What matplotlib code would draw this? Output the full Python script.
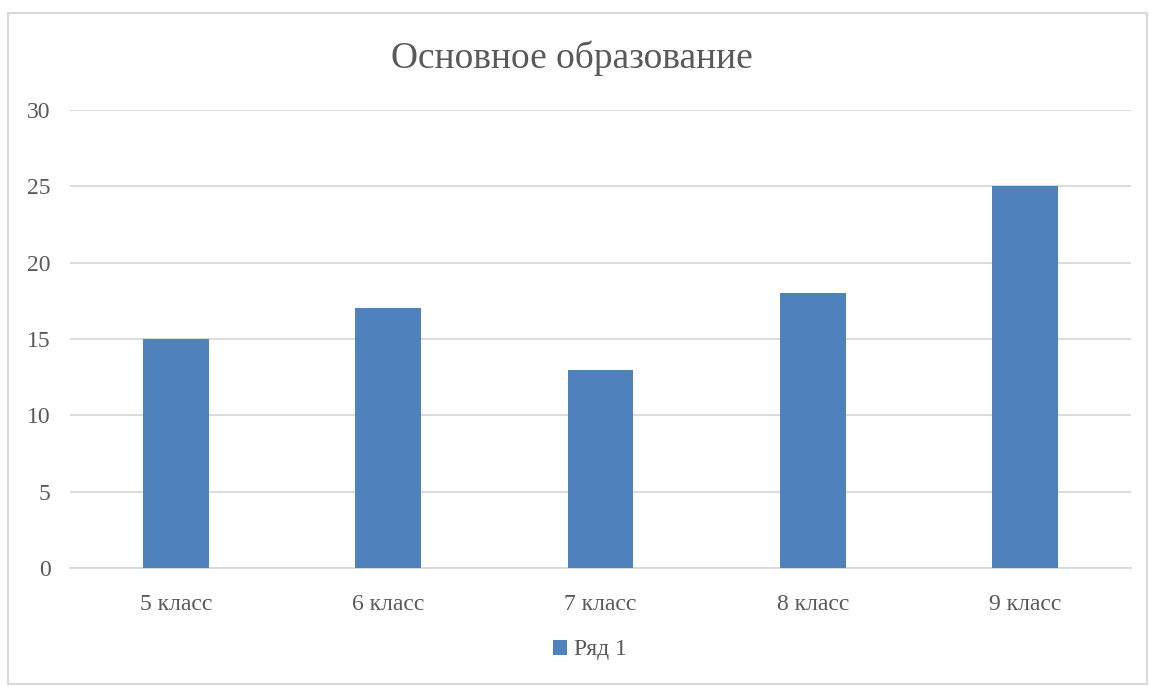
import matplotlib.pyplot as plt
from matplotlib.patches import Rectangle
import numpy as np

# данные
categories = ['5 класс', '6 класс', '7 класс', '8 класс', '9 класс']
values = [15, 17, 13, 18, 25]
series_name = 'Ряд 1'
title = 'Основное образование'

plt.rcParams['font.family'] = ['Liberation Serif', 'DejaVu Serif']

W, H = 1149, 686
fig = plt.figure(figsize=(W / 100, H / 100), dpi=100)

# рамка вокруг диаграммы
fig.patches.append(Rectangle((8 / W, 1 - 684 / H), (1147 - 8) / W, (684 - 13) / H,
                             transform=fig.transFigure, fill=False,
                             edgecolor='#D9D9D9', linewidth=1.5))

ax = fig.add_axes([70 / W, 1 - 568 / H, (1131 - 70) / W, (568 - 110) / H])
x = np.arange(len(categories))
ax.bar(x, values, width=0.31, color='#4F81BD', label=series_name, zorder=3)

ax.set_xlim(-0.5, len(categories) - 0.5)
ax.set_ylim(0, 30)
ax.set_yticks(range(0, 31, 5))
ax.set_xticks(x)
ax.set_xticklabels(categories)
ax.grid(axis='y', color='#D9D9D9', linewidth=1.3, zorder=0)
for s in ['top', 'right', 'left']:
    ax.spines[s].set_visible(False)
ax.spines['bottom'].set_color('#D9D9D9')
ax.spines['bottom'].set_linewidth(1.3)
ax.tick_params(length=0, labelsize=17, labelcolor='#595959')
ax.tick_params(axis='y', pad=14)
ax.tick_params(axis='x', pad=19)

fig.text(572 / W, 1 - 58 / H, title, ha='center', va='center',
         fontsize=27, color='#595959')

leg = fig.legend(loc='center', bbox_to_anchor=(590 / W, 1 - 650 / H), frameon=False,
                 fontsize=17, handlelength=0.6, handleheight=0.6, handletextpad=0.3)
for t in leg.get_texts():
    t.set_color('#595959')

fig.savefig('out.png', dpi=100)
